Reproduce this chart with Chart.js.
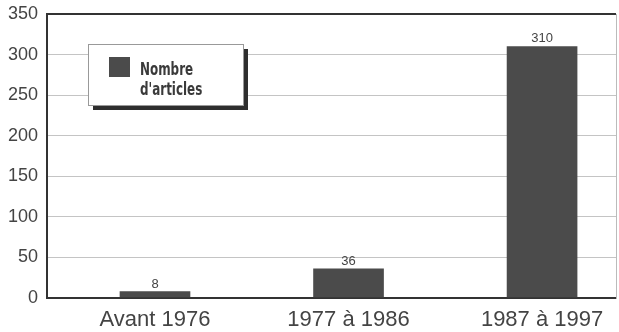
<!DOCTYPE html>
<html>
<head>
<meta charset="utf-8">
<script src="https://cdn.jsdelivr.net/npm/chart.js@4"></script>
<style>
  body { margin: 0; background: #fff; }
</style>
</head>
<body>
<canvas id="articlesChart" width="619" height="332"></canvas>
<script>
const categories = ['Avant 1976', '1977 à 1986', '1987 à 1997'];
const articleCounts = [8, 36, 310];
const seriesLabel = ['Nombre', "d'articles"];
const yTicks = [0, 50, 100, 150, 200, 250, 300, 350];

const barColor = '#4b4b4b';
const textColor = '#444';

// value labels over each bar
const valueLabels = {
  id: 'valueLabels',
  afterDatasetsDraw(chart) {
    const ctx = chart.ctx;
    const meta = chart.getDatasetMeta(0);
    ctx.save();
    ctx.font = '13px "Liberation Sans", Arial, sans-serif';
    ctx.fillStyle = textColor;
    ctx.textAlign = 'center';
    ctx.textBaseline = 'alphabetic';
    meta.data.forEach((bar, i) => {
      ctx.fillText(String(articleCounts[i]), bar.x, bar.y - 4);
    });
    ctx.restore();
  }
};

// boxed legend with drop shadow, inside the plot
const boxLegend = {
  id: 'boxLegend',
  afterDraw(chart) {
    const ctx = chart.ctx;
    const area = chart.chartArea;
    const x = area.left + 41, y = area.top + 30, w = 155, h = 61;
    ctx.save();
    ctx.fillStyle = '#2e2e2e';
    ctx.fillRect(x + 5, y + 5, w, h);
    ctx.fillStyle = '#fff';
    ctx.fillRect(x, y, w, h);
    ctx.strokeStyle = '#999';
    ctx.lineWidth = 1;
    ctx.strokeRect(x + 0.5, y + 0.5, w, h);
    ctx.fillStyle = barColor;
    ctx.fillRect(x + 21, y + 13, 21, 20);
    // narrow bold label, squeezed horizontally
    ctx.fillStyle = '#3a3a3a';
    ctx.font = 'bold 17px "DejaVu Sans Condensed", "DejaVu Sans", sans-serif';
    ctx.textBaseline = 'alphabetic';
    ctx.translate(x + 52, y);
    ctx.scale(0.78, 1);
    const lines = chart.data.datasets[0].label.split('\n');
    lines.forEach((line, i) => ctx.fillText(line, 0, 31 + i * 20));
    ctx.restore();
  }
};

new Chart(document.getElementById('articlesChart'), {
  type: 'bar',
  data: {
    datasets: [{
      label: seriesLabel.join('\n'),
      data: articleCounts.map((v, i) => ({ x: i, y: v })),
      backgroundColor: barColor,
      borderWidth: 0,
      barThickness: 70
    }]
  },
  options: {
    responsive: false,
    animation: false,
    layout: { padding: { top: 14, left: 0, right: 0, bottom: 0 } },
    plugins: {
      legend: { display: false },
      tooltip: { enabled: false }
    },
    scales: {
      x: {
        type: 'linear',
        offset: false,
        min: -0.558,
        max: 2.382,
        afterBuildTicks: (scale) => {
          scale.ticks = categories.map((c, i) => ({ value: i }));
        },
        afterFit: (scale) => {
          scale.height = 34;
          scale.paddingLeft = 0;
          scale.paddingRight = 0;
        },
        ticks: {
          autoSkip: false,
          maxRotation: 0,
          padding: 1,
          color: textColor,
          font: { family: '"Liberation Sans", Arial, sans-serif', size: 22 },
          callback: (v) => categories[v]
        },
        grid: { display: false },
        border: { display: true, color: '#333', width: 2 }
      },
      y: {
        min: 0,
        max: 350,
        afterBuildTicks: (scale) => {
          scale.ticks = yTicks.map(v => ({ value: v }));
        },
        afterFit: (scale) => {
          scale.width = 47;
          scale.paddingTop = 0;
          scale.paddingBottom = 0;
        },
        ticks: {
          padding: 9,
          color: textColor,
          font: { family: '"Liberation Sans", Arial, sans-serif', size: 18 }
        },
        grid: {
          drawTicks: false,
          color: (c) => (c.tick.value === 0 || c.tick.value === 350) ? '#333' : '#c4c4c4',
          lineWidth: (c) => (c.tick.value === 0 || c.tick.value === 350) ? 2 : 1
        },
        border: { display: true, color: '#333', width: 2 }
      },
      yRight: {
        position: 'right',
        min: 0,
        max: 350,
        afterFit: (scale) => {
          scale.width = 3;
          scale.paddingTop = 0;
          scale.paddingBottom = 0;
        },
        ticks: { display: false },
        grid: { display: false },
        border: { display: true, color: '#bbb', width: 1 }
      }
    }
  },
  plugins: [valueLabels, boxLegend]
});
</script>
</body>
</html>
